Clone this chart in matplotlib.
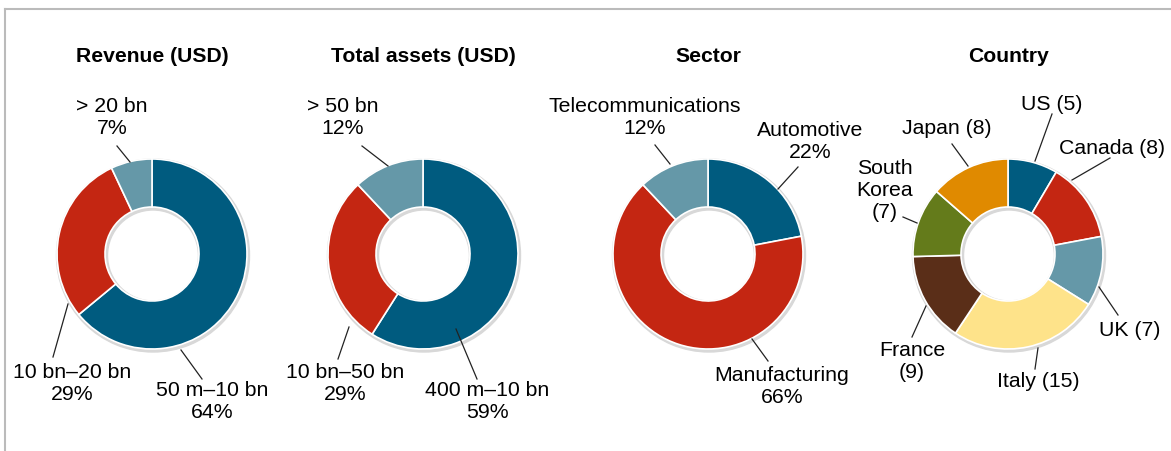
import matplotlib.pyplot as plt
from matplotlib.patches import Wedge

plt.rcParams['font.family'] = ['Liberation Sans', 'DejaVu Sans']

# chart data
titles = ["Revenue (USD)", "Total assets (USD)", "Sector", "Country"]

revenue_labels = ["50 m\u201310 bn\n64%", "10 bn\u201320 bn\n29%", "> 20 bn\n7%"]
revenue_values = [64, 29, 7]

assets_labels = ["400 m\u201310 bn\n59%", "10 bn\u201350 bn\n29%", "> 50 bn\n12%"]
assets_values = [59, 29, 12]

sector_labels = ["Automotive\n22%", "Manufacturing\n66%", "Telecommunications\n12%"]
sector_values = [22, 66, 12]

country_labels = ["US (5)", "Canada (8)", "UK (7)", "Italy (15)", "France\n(9)",
                  "South\nKorea\n(7)", "Japan (8)"]
country_values = [5, 8, 7, 15, 9, 7, 8]

blue = "#005b7f"
red = "#c42612"
grey_blue = "#6598a8"
three_colors = [blue, red, grey_blue]
country_colors = [blue, red, grey_blue, "#fee38a", "#5a2e18", "#647b1b", "#e08a00"]

# layout in pixels (figure is 1171 x 452)
W, H = 1171, 452
centers_x = [152, 423, 708, 1008]
center_y = 255
r_out, ring = 95, 48

# (line start on ring, line end near text, text position) per label
revenue_pos = [((181, 351), (202, 380), (212, 402)),
               ((68, 305), (53, 358), (72, 384)),
               ((130, 163), (117, 147), (112, 118))]
assets_pos = [((456, 330), (477, 380), (487, 402)),
              ((349, 328), (338, 360), (345, 384)),
              ((388, 167), (362, 147), (343, 118))]
sector_pos = [((778, 190), (798, 168), (810, 141)),
              ((752, 340), (768, 362), (782, 387)),
              ((670, 165), (655, 146), (645, 118))]
country_pos = [((1035, 162), (1052, 115), (1052, 104)),
               ((1072, 181), (1110, 159), (1112, 149)),
               ((1099, 288), (1118, 316), (1130, 331)),
               ((1038, 349), (1035, 370), (1038, 382)),
               ((926, 307), (912, 338), (912, 362)),
               ((917, 224), (903, 218), (885, 191)),
               ((968, 167), (952, 145), (947, 129))]

fig = plt.figure(figsize=(W / 100, H / 100), dpi=100)
ax = fig.add_axes([0, 0, 1, 1])

# border on top and left
ax.plot([5, W], [H - 10, H - 10], color="#bbbbbb", lw=1.5)
ax.plot([5, 5], [H - 10, 0], color="#bbbbbb", lw=1.5)

charts = [
    (revenue_values, revenue_labels, three_colors, revenue_pos),
    (assets_values, assets_labels, three_colors, assets_pos),
    (sector_values, sector_labels, three_colors, sector_pos),
    (country_values, country_labels, country_colors, country_pos),
]

for i, (values, labels, colors, pos) in enumerate(charts):
    cx = centers_x[i]
    # faint shadow behind the ring
    ax.add_patch(Wedge((cx + 1, H - center_y - 1.5), r_out + 1.5, 0, 360,
                       width=ring + 3, color="#d8d8d8", zorder=0.5))
    ax.pie(values, colors=colors, startangle=90, counterclock=False,
           center=(cx, H - center_y), radius=r_out, frame=True,
           wedgeprops=dict(width=ring, edgecolor="white", linewidth=1.2, zorder=1))
    ax.text(cx, H - 57, titles[i], ha="center", va="center",
            fontsize=15.2, fontweight="bold")
    for label, (p0, p1, pt) in zip(labels, pos):
        ax.plot([p0[0], p1[0]], [H - p0[1], H - p1[1]], color="#222222", lw=0.9)
        ax.text(pt[0], H - pt[1], label, ha="center", va="center",
                fontsize=15.3, linespacing=1.2)

ax.set_xlim(0, W)
ax.set_ylim(0, H)
ax.set_aspect('equal')
ax.axis('off')

fig.savefig("out.png", dpi=100)
